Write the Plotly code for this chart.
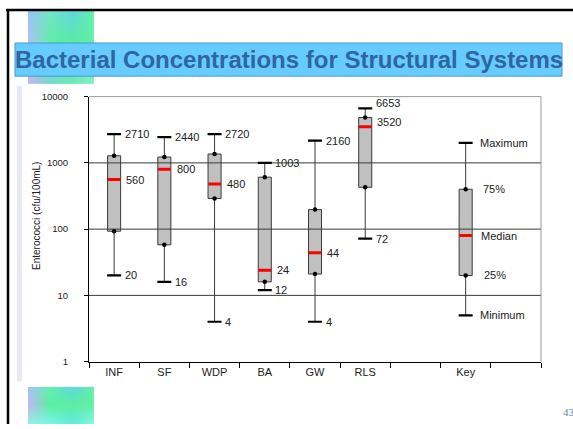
import numpy as np
import plotly.graph_objects as go

# ---------------- data ----------------
categories = ['INF', 'SF', 'WDP', 'BA', 'GW', 'RLS', '', 'Key', '']
series = ['INF', 'SF', 'WDP', 'BA', 'GW', 'RLS', 'Key']
positions = [0, 1, 2, 3, 4, 5, 7]
min_vals = [20, 16, 4, 12, 4, 72, 5]
q1_vals = [93, 58, 290, 16, 21, 428, 20]
median_vals = [560, 800, 480, 24, 44, 3520, 80]
q3_vals = [1280, 1225, 1360, 608, 197, 4840, 400]
max_vals = [2710, 2440, 2720, 1003, 2160, 6653, 2000]
max_labels = ['2710', '2440', '2720', '1003', '2160', '6653', 'Maximum']
median_labels = ['560', '800', '480', '24', '44', '3520', 'Median']
min_labels = ['20', '16', '4', '12', '4', '72', 'Minimum']
key_q3_label = '75%'
key_q1_label = '25%'
y_ticks = [1, 10, 100, 1000, 10000]
y_ticktext = ['1', '10', '100', '1000', '10000']
grid_vals = [10, 100, 1000]
title_text = 'Bacterial Concentrations for Structural Systems'
y_title = 'Enterococci (cfu/100mL)'
page_number = '43'

# ---------------- geometry helpers ----------------
W, H = 573, 429
def px(x):
    return x / W
def py(y):
    return 1 - y / H

PL, PR, PT, PB = 89, 541, 93, 365
UNIT = (PR - PL) / 9.0
FONT = 'Liberation Sans, Arial, sans-serif'

fig = go.Figure()

# ---------------- decorative gradients ----------------
def hex2rgb(h):
    h = h.lstrip('#')
    return [int(h[i:i + 2], 16) for i in (0, 2, 4)]

def gradient(ctrl, h, w):
    arr = np.array([[hex2rgb(c) for c in row] for row in ctrl], dtype=float)
    r, c = arr.shape[:2]
    xs = np.linspace(0, c - 1, w)
    ys = np.linspace(0, r - 1, h)
    tmp = np.zeros((r, w, 3))
    for i in range(r):
        for k in range(3):
            tmp[i, :, k] = np.interp(xs, np.arange(c), arr[i, :, k])
    out = np.zeros((h, w, 3))
    for j in range(w):
        for k in range(3):
            out[:, j, k] = np.interp(ys, np.arange(r), tmp[:, j, k])
    return out.astype(np.uint8)

top_ctrl = [
    ['#92c6f8', '#74e6c4', '#62d6e0', '#62f0a8'],
    ['#b8c0f4', '#5ef0a0', '#58f098', '#62f0a8'],
    ['#c0b8f0', '#78d8d0', '#70e8b8', '#84f0c4'],
]
bot_ctrl = [
    ['#a2c6f8', '#62f0b0', '#62d8e0', '#62f0a4'],
    ['#c0b8f0', '#5af0a0', '#5af0a0', '#62f0a4'],
    ['#94f0e0', '#7af6e8', '#62e8e0', '#84f6e0'],
]
img_top = gradient(top_ctrl, 75, 68)
img_bot = gradient(bot_ctrl, 38, 68)
fig.add_trace(go.Image(z=img_top, xaxis='x3', yaxis='y3', hoverinfo='skip'))
fig.add_trace(go.Image(z=img_bot, xaxis='x4', yaxis='y4', hoverinfo='skip'))

# ---------------- gridlines ----------------
for g in grid_vals:
    fig.add_trace(go.Scatter(x=[-0.5, 8.5], y=[g, g], mode='lines',
                             line=dict(color='#3a3a3a', width=1),
                             hoverinfo='skip', showlegend=False))

# ---------------- boxes ----------------
for p, mn, a, m, b, mx in zip(positions, min_vals, q1_vals, median_vals, q3_vals, max_vals):
    fig.add_trace(go.Box(x=[p], q1=[a], median=[m], q3=[b], lowerfence=[mn], upperfence=[mx],
                         width=0.26, whiskerwidth=0, fillcolor='#C0C0C0',
                         line=dict(color='#3a3a3a', width=1), boxpoints=False,
                         hoverinfo='skip', showlegend=False))

# caps
fig.add_trace(go.Scatter(x=positions + positions, y=min_vals + max_vals, mode='markers',
                         marker=dict(symbol='line-ew', size=10, color='black',
                                     line=dict(color='black', width=2.2)),
                         hoverinfo='skip', showlegend=False))
# quartile dots
fig.add_trace(go.Scatter(x=positions + positions, y=q1_vals + q3_vals, mode='markers',
                         marker=dict(symbol='circle', size=4.5, color='black'),
                         hoverinfo='skip', showlegend=False))
# red medians
mx_, my_ = [], []
for p, m in zip(positions, median_vals):
    mx_ += [p - 0.125, p + 0.125, None]
    my_ += [m, m, None]
fig.add_trace(go.Scatter(x=mx_, y=my_, mode='lines', line=dict(color='#FF0000', width=3),
                         hoverinfo='skip', showlegend=False))

# ---------------- value labels ----------------
annots = []
lab_font = dict(family=FONT, size=11, color='#222222')
for i, s in enumerate(series):
    p = positions[i]
    if s == 'Key':
        items = [(max_vals[i], max_labels[i], 12, 0),
                 (q3_vals[i], key_q3_label, 15, 0),
                 (median_vals[i], median_labels[i], 13.5, 0),
                 (q1_vals[i], key_q1_label, 16, 0),
                 (min_vals[i], min_labels[i], 12, 0)]
    else:
        up = 5 if s == 'RLS' else 0
        items = [(max_vals[i], max_labels[i], 8.7, up),
                 (median_vals[i], median_labels[i], 10.2, up),
                 (min_vals[i], min_labels[i], 8.7, 0)]
    for v, t, off, ys in items:
        annots.append(dict(x=p + off / UNIT, y=float(np.log10(v)), xref='x', yref='y',
                           text=t, showarrow=False, xanchor='left', yanchor='middle',
                           yshift=ys, font=lab_font))

# y axis title
annots.append(dict(x=px(36.5), y=py(216), xref='paper', yref='paper', text=y_title,
                   textangle=-90, showarrow=False, xanchor='center', yanchor='middle',
                   font=dict(family=FONT, size=10, color='#222222')))
# title
annots.append(dict(x=px(288.5), y=py(55), xref='paper', yref='paper',
                   text='<b>' + title_text + '</b>', showarrow=False,
                   xanchor='center', yanchor='middle',
                   font=dict(family=FONT, size=24, color='#2F66A0')))
# page number
annots.append(dict(x=px(561), y=py(417), xref='paper', yref='paper', text=page_number,
                   showarrow=False, xanchor='left', yanchor='middle',
                   font=dict(family='Liberation Serif, serif', size=11, color='#5B7FB5')))

shapes = [
    # slide border
    dict(type='line', xref='paper', yref='paper', x0=px(6), x1=1, y0=py(4), y1=py(4),
         line=dict(color='black', width=2.5)),
    dict(type='line', xref='paper', yref='paper', x0=px(8), x1=px(8), y0=py(3), y1=0,
         line=dict(color='black', width=2.5)),
    # faint left shading
    dict(type='rect', xref='paper', yref='paper', x0=px(17), x1=px(22), y0=py(385), y1=py(82),
         fillcolor='rgba(190,190,235,0.35)', line=dict(width=0), layer='below'),
    # title box
    dict(type='rect', xref='paper', yref='paper', x0=px(15), x1=px(562), y0=py(72), y1=py(38),
         fillcolor='#66CCFF', line=dict(color='#4A9AD0', width=1), layer='above'),
    # plot frame top/right
    dict(type='line', xref='paper', yref='paper', x0=px(PL), x1=px(PR), y0=py(PT), y1=py(PT),
         line=dict(color='#999999', width=1)),
    dict(type='line', xref='paper', yref='paper', x0=px(PR), x1=px(PR), y0=py(PT), y1=py(PB),
         line=dict(color='#999999', width=1)),
]

fig.update_layout(
    width=W, height=H,
    margin=dict(l=0, r=0, t=0, b=0),
    paper_bgcolor='white', plot_bgcolor='white',
    showlegend=False,
    annotations=annots,
    shapes=shapes,
    xaxis=dict(domain=[px(PL), px(PR)], range=[-0.5, 8.5], anchor='y',
               tickvals=list(range(len(categories))), ticktext=categories,
               ticks='', showline=True, linecolor='black', linewidth=1,
               showgrid=False, zeroline=False,
               tickfont=dict(family=FONT, size=11, color='#222222')),
    xaxis2=dict(overlaying='x', anchor='y', range=[-0.5, 8.5],
                tickvals=[i - 0.5 for i in range(len(categories) + 1)],
                ticks='outside', ticklen=5, tickcolor='black', tickwidth=1,
                showticklabels=False, showgrid=False, showline=False, zeroline=False),
    yaxis=dict(domain=[py(PB), py(PT)], type='log', range=[0, 4], anchor='x',
               tickvals=y_ticks, ticktext=y_ticktext, ticks='outside', ticklen=4,
               tickcolor='black', showline=True, linecolor='black', linewidth=1,
               showgrid=False, zeroline=False, ticklabelstandoff=14,
               tickfont=dict(family=FONT, size=9.5, color='#222222')),
    xaxis3=dict(domain=[px(27), px(95)], anchor='y3', range=[-0.5, 67.5], visible=False),
    yaxis3=dict(domain=[py(80), py(5)], anchor='x3', range=[74.5, -0.5], visible=False),
    xaxis4=dict(domain=[px(27), px(95)], anchor='y4', range=[-0.5, 67.5], visible=False),
    yaxis4=dict(domain=[0, py(391)], anchor='x4', range=[37.5, -0.5], visible=False),
)

# dummy trace to activate xaxis2 ticks
fig.add_trace(go.Scatter(x=[0], y=[1], xaxis='x2', yaxis='y', mode='markers',
                         marker=dict(opacity=0), hoverinfo='skip', showlegend=False))

fig.write_html('out.html', config={'displayModeBar': False, 'staticPlot': True},
               post_script=("document.documentElement.style.margin='0';"
                            "document.documentElement.style.padding='0';"
                            "document.documentElement.style.overflow='hidden';"
                            "document.body.style.margin='0';"
                            "document.body.style.padding='0';"
                            "document.body.style.overflow='hidden';"))
